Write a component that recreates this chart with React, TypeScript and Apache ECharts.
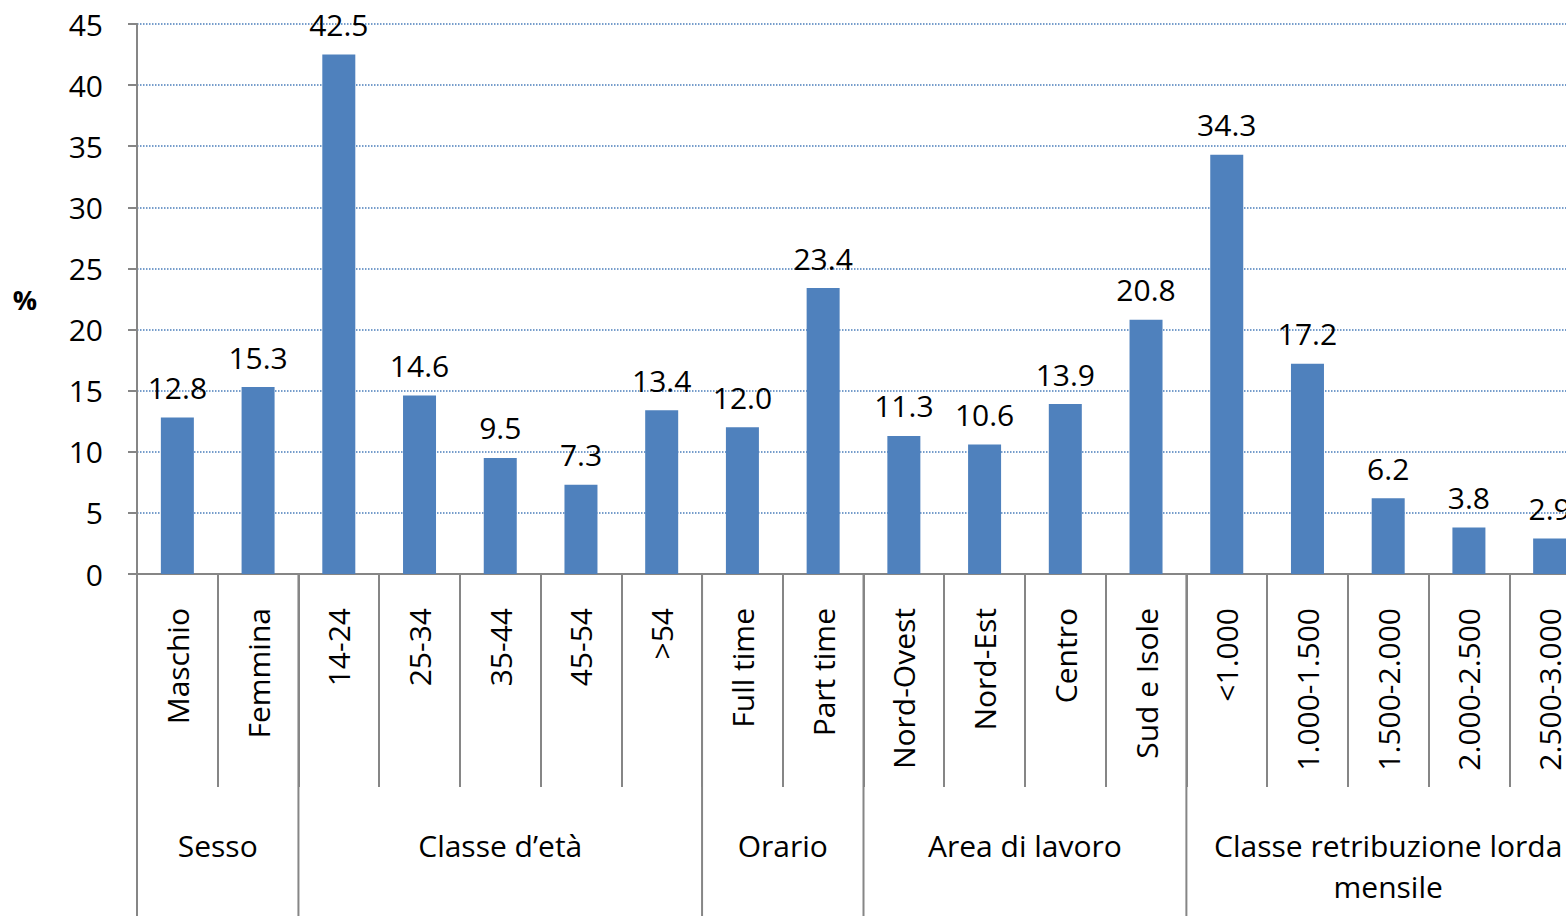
import React, { useEffect, useRef } from "react";
import * as echarts from "echarts";

const categories = [
  "Maschio", "Femmina",
  "14-24", "25-34", "35-44", "45-54", ">54",
  "Full time", "Part time",
  "Nord-Ovest", "Nord-Est", "Centro", "Sud e Isole",
  "<1.000", "1.000-1.500", "1.500-2.000", "2.000-2.500", "2.500-3.000",
];
const values = [12.8, 15.3, 42.5, 14.6, 9.5, 7.3, 13.4, 12.0, 23.4, 11.3, 10.6, 13.9, 20.8, 34.3, 17.2, 6.2, 3.8, 2.9];
const groupNames = ["Sesso", "Classe d’età", "Orario", "Area di lavoro", "Classe retribuzione lorda\nmensile"];
const groupSizes = [2, 5, 2, 4, 5];
const yTicks = [0, 5, 10, 15, 20, 25, 30, 35, 40, 45];

const FONT = "'Open Sans', sans-serif";
const GRAY = "#868686";
const FS = 30;

export default function App() {
  const ref = useRef<HTMLDivElement>(null);
  useEffect(() => {
    if (!ref.current) return;
    const chart = echarts.init(ref.current, null, { renderer: "svg" });
    chart.setOption({
      animation: false,
      backgroundColor: "#ffffff",
      textStyle: { fontFamily: FONT },
      grid: { left: 137, top: 24, right: 10, bottom: 342, containLabel: false },
      xAxis: {
        type: "category",
        data: categories,
        boundaryGap: true,
        axisLine: { show: true, lineStyle: { color: GRAY, width: 2 } },
        axisTick: { show: true, interval: 0, length: 213, lineStyle: { color: GRAY, width: 2 } },
        axisLabel: {
          interval: 0,
          rotate: 90,
          margin: 34,
          fontSize: FS,
          color: "#000",
          fontFamily: FONT,
        },
        splitLine: { show: false },
      },
      yAxis: {
        type: "value",
        min: yTicks[0],
        max: yTicks[yTicks.length - 1],
        interval: 5,
        name: "%",
        nameLocation: "middle",
        nameRotate: 0,
        nameGap: 100,
        nameTextStyle: {
          fontSize: 27,
          fontWeight: "bold",
          color: "#000",
          fontFamily: FONT,
          padding: [30, 0, 0, 0],
        },
        axisLine: { show: true, lineStyle: { color: GRAY, width: 2 } },
        axisTick: { show: true, length: 9, lineStyle: { color: GRAY, width: 2 } },
        axisLabel: { fontSize: FS, color: "#000", margin: 34, fontFamily: FONT },
        splitLine: { show: true, lineStyle: { color: "#4A7EBB", type: "dotted", width: 1.5 } },
      },
      series: [
        {
          type: "bar",
          data: values,
          barWidth: 33,
          itemStyle: { color: "#4F81BD" },
          label: {
            show: true,
            position: "top",
            distance: 15,
            fontSize: FS,
            color: "#000",
            fontFamily: FONT,
            formatter: (p: any) => Number(p.value).toFixed(1),
          },
        },
      ],
    });

    const c0 = chart.convertToPixel({ xAxisIndex: 0 }, 0) as number;
    const c1 = chart.convertToPixel({ xAxisIndex: 0 }, 1) as number;
    const band = c1 - c0;
    const left = c0 - band / 2;
    const y0 = chart.convertToPixel({ yAxisIndex: 0 }, 0) as number;
    const h = chart.getHeight();

    const elements: any[] = [];
    let acc = 0;
    const bounds = [0];
    groupSizes.forEach((s) => {
      acc += s;
      bounds.push(acc);
    });
    bounds.forEach((b) => {
      const x = left + b * band;
      elements.push({
        type: "line",
        shape: { x1: x, y1: y0, x2: x, y2: h },
        style: { stroke: GRAY, lineWidth: 2 },
        silent: true,
      });
    });
    groupNames.forEach((g, i) => {
      const xc = left + ((bounds[i] + bounds[i + 1]) / 2) * band;
      elements.push({
        type: "text",
        x: xc,
        y: y0 + 251,
        style: {
          text: g,
          fontSize: FS,
          fontFamily: FONT,
          fill: "#000",
          align: "center",
          verticalAlign: "top",
          lineHeight: 41,
        },
        silent: true,
      });
    });
    chart.setOption({ graphic: elements });

    return () => chart.dispose();
  }, []);

  return (
    <div
      style={{
        position: "fixed",
        left: 0,
        top: 0,
        width: 1566,
        height: 916,
        overflow: "hidden",
        background: "#fff",
      }}
    >
      <div ref={ref} style={{ width: 1600, height: 916 }} />
    </div>
  );
}
